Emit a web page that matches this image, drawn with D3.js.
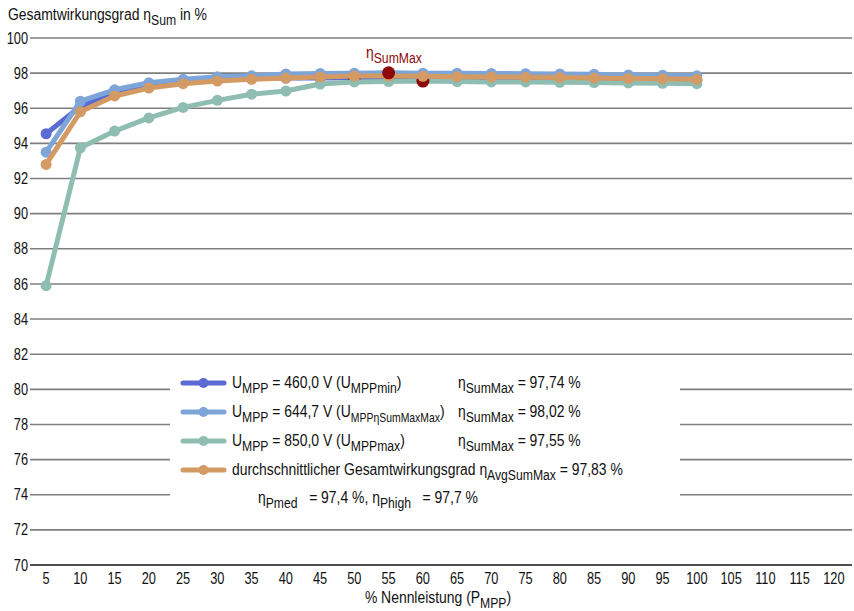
<!DOCTYPE html>
<html><head><meta charset="utf-8">
<script src="https://cdn.jsdelivr.net/npm/d3@7"></script>
<style>
html,body{margin:0;padding:0;background:#fff;}
svg{display:block;font-family:"Liberation Sans Narrow","Arial Narrow","Liberation Sans",sans-serif;}
</style></head>
<body><svg id="c" width="854" height="611"></svg>
<script>
const xTicks = [5,10,15,20,25,30,35,40,45,50,55,60,65,70,75,80,85,90,95,100,105,110,115,120];
const loads = [5,10,15,20,25,30,35,40,45,50,55,60,65,70,75,80,85,90,95,100];
const yTicks = [70,72,74,76,78,80,82,84,86,88,90,92,94,96,98,100];
const eta460 = [94.55,96.1,96.9,97.35,97.55,97.65,97.7,97.72,97.73,97.74,97.73,97.72,97.72,97.7,97.7,97.68,97.67,97.65,97.63,97.6];
const eta644 = [93.5,96.4,97.05,97.45,97.65,97.8,97.85,97.95,97.98,98.0,98.02,98.0,98.0,97.98,97.97,97.95,97.93,97.9,97.88,97.85];
const eta850 = [85.9,93.75,94.7,95.45,96.05,96.45,96.8,96.98,97.38,97.5,97.52,97.55,97.52,97.5,97.5,97.48,97.46,97.44,97.42,97.4];
const etaAvg = [92.8,95.8,96.7,97.15,97.4,97.55,97.65,97.72,97.78,97.83,97.83,97.82,97.8,97.78,97.77,97.75,97.73,97.7,97.68,97.65];
const maxLoad460 = 50, maxLoad644 = 55, maxLoad850 = 60;

const svg=d3.select("#c");
const x=d3.scalePoint().domain(xTicks).range([29,851]).padding(0.5);
const y=d3.scaleLinear().domain([70,100]).range([565,38]);
const gridL=30, gridR=852;
const FS=16, SX=0.87, SXN=0.8;

function T(px,py,sx){
  return svg.append("g").attr("transform",`translate(${px},${py}) scale(${sx||SX},1)`)
    .append("text").attr("font-size",FS).attr("fill","#111");
}
function rich(sel,parts){
  parts.forEach(p=>{
    const ts=sel.append("tspan").text(p[0]);
    if(p[1]) ts.attr("dy",5).attr("font-size",p[3]||FS-2);
    else if(p[2]) ts.attr("dy",p[2]);
  });
}

// gridlines
svg.append("g").selectAll("line").data(yTicks).join("line")
  .attr("x1",gridL).attr("x2",gridR)
  .attr("y1",d=>y(d)).attr("y2",d=>y(d))
  .attr("stroke",d=>d===70?"#111":"#7f7f7f").attr("stroke-width",1.6);

// y labels
yTicks.forEach(d=>{
  T(28,y(d),SXN).attr("dy","0.35em").attr("text-anchor","end").text(d);
});
// x labels
xTicks.forEach(d=>{
  T(x(d),578,SXN).attr("dy","0.35em").attr("text-anchor","middle").text(d);
});

// title
rich(T(8,20),[["Gesamtwirkungsgrad η"],["Sum",1],[" in %",0,-5]]);
// x title
rich(T(438,603).attr("text-anchor","middle"),[["% Nennleistung (P"],["MPP",1],[")",0,-5]]);

// legend background (interrupts gridlines)
svg.append("rect").attr("x",170).attr("y",367).attr("width",510).attr("height",148).attr("fill","#fff");

const series=[
  {vals:eta460,color:"#5a6bd2"},
  {vals:eta644,color:"#7ea5d8"},
  {vals:eta850,color:"#8fbdb2"},
  {vals:etaAvg,color:"#d49a63"}
];
const line=d3.line().x(d=>x(d[0])).y(d=>y(d[1]));
const maxColor="#8c0a0a";
function drawSeries(s){
  const pts=loads.map((l,i)=>[l,s.vals[i]]);
  const g=svg.append("g");
  g.append("path").datum(pts).attr("d",line).attr("fill","none").attr("stroke",s.color).attr("stroke-width",5).attr("stroke-linejoin","round");
  g.selectAll("circle").data(pts).join("circle").attr("cx",d=>x(d[0])).attr("cy",d=>y(d[1])).attr("r",5.5).attr("fill",s.color);
}
function drawMax(vals,load){
  const i=loads.indexOf(load);
  svg.append("circle").attr("cx",x(load)).attr("cy",y(vals[i])).attr("r",6.5).attr("fill",maxColor);
}
drawSeries(series[0]);
drawMax(eta460,maxLoad460);
drawSeries(series[1]);
drawSeries(series[2]);
drawMax(eta850,maxLoad850);
drawSeries(series[3]);
drawMax(eta644,maxLoad644);

// eta SumMax label
rich(T(366,58).attr("fill",maxColor),[["η"],["SumMax",1]]);

// legend
const legRows=[
  {color:series[0].color,y:383,
   a:[["U"],["MPP",1],[" = 460,0 V (U",0,-5],["MPPmin",1],[")",0,-5]],
   b:[["η"],["SumMax",1],[" = 97,74 %",0,-5]]},
  {color:series[1].color,y:412,
   a:[["U"],["MPP",1],[" = 644,7 V (U",0,-5],["MPPηSumMaxMax",1,0,12],[")",0,-5]],
   b:[["η"],["SumMax",1],[" = 98,02 %",0,-5]]},
  {color:series[2].color,y:441,
   a:[["U"],["MPP",1],[" = 850,0 V (U",0,-5],["MPPmax",1],[")",0,-5]],
   b:[["η"],["SumMax",1],[" = 97,55 %",0,-5]]},
  {color:series[3].color,y:470,
   a:[["durchschnittlicher Gesamtwirkungsgrad η"],["AvgSumMax",1],[" = 97,83 %",0,-5]],
   b:null}
];
legRows.forEach(r=>{
  svg.append("line").attr("x1",183).attr("x2",224).attr("y1",r.y).attr("y2",r.y).attr("stroke",r.color).attr("stroke-width",5).attr("stroke-linecap","round");
  svg.append("circle").attr("cx",203.5).attr("cy",r.y).attr("r",5).attr("fill",r.color);
  rich(T(232,r.y+5),r.a);
  if(r.b) rich(T(458,r.y+5),r.b);
});
const t5=T(258,503).attr("xml:space","preserve").style("white-space","pre");
rich(t5,[["η"],["Pmed",1],["   = 97,4 %, η",0,-5],["Phigh",1],["   = 97,7 %",0,-5]]);
</script></body></html>
